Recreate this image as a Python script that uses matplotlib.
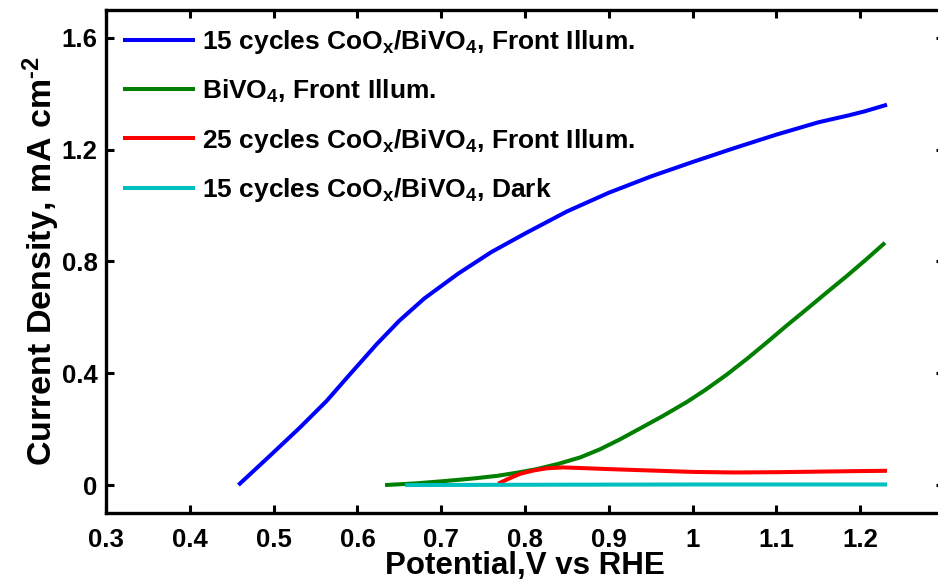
import matplotlib
matplotlib.use("Agg")
import matplotlib.pyplot as plt

# Photocurrent curves (potential in V vs RHE, current in mA cm^-2)
blue_x = [0.458, 0.4957, 0.5315, 0.5633, 0.591, 0.623, 0.65, 0.68, 0.72, 0.76,
          0.80, 0.85, 0.90, 0.95, 1.00, 1.05, 1.10, 1.15, 1.185, 1.205, 1.232]
blue_y = [0.0, 0.105, 0.206, 0.301, 0.396, 0.504, 0.588, 0.668, 0.756, 0.834,
          0.900, 0.979, 1.046, 1.104, 1.156, 1.206, 1.254, 1.298, 1.322, 1.337, 1.361]

green_x = [0.633, 0.67, 0.707, 0.74, 0.767, 0.79, 0.814, 0.84, 0.866, 0.8895,
           0.913, 0.937, 0.965, 0.993, 1.015, 1.0407, 1.065, 1.0884, 1.112,
           1.136, 1.16, 1.184, 1.207, 1.2296]
green_y = [0.0, 0.006, 0.015, 0.024, 0.033, 0.044, 0.057, 0.076, 0.099, 0.128,
           0.163, 0.202, 0.248, 0.297, 0.34, 0.395, 0.452, 0.51, 0.57,
           0.629, 0.689, 0.748, 0.807, 0.867]

red_x = [0.768, 0.78, 0.794, 0.81, 0.826, 0.845, 0.866, 0.9, 0.95, 1.0, 1.05, 1.1,
         1.15, 1.2, 1.232]
red_y = [0.005, 0.022, 0.04, 0.052, 0.06, 0.063, 0.061, 0.057, 0.052, 0.047, 0.045,
         0.046, 0.048, 0.05, 0.051]

cyan_x = [0.657, 0.8, 1.0, 1.232]
cyan_y = [0.0, 0.001, 0.002, 0.002]

labels = [r"15 cycles CoO$_\mathbf{x}$/BiVO$_\mathbf{4}$, Front Illum.",
          r"BiVO$_\mathbf{4}$, Front Illum.",
          r"25 cycles CoO$_\mathbf{x}$/BiVO$_\mathbf{4}$, Front Illum.",
          r"15 cycles CoO$_\mathbf{x}$/BiVO$_\mathbf{4}$, Dark"]
colors = ["#0000ff", "#007f00", "#ff0000", "#00bfbf"]

x_ticks = [0.3, 0.4, 0.5, 0.6, 0.7, 0.8, 0.9, 1.0, 1.1, 1.2]
x_tick_labels = ["0.3", "0.4", "0.5", "0.6", "0.7", "0.8", "0.9", "1", "1.1", "1.2"]
y_ticks = [0, 0.4, 0.8, 1.2, 1.6]
y_tick_labels = ["0", "0.4", "0.8", "1.2", "1.6"]

plt.rcParams["font.family"] = ["Liberation Sans", "DejaVu Sans"]
plt.rcParams["font.weight"] = "bold"
plt.rcParams["mathtext.fontset"] = "custom"
plt.rcParams["mathtext.bf"] = "Liberation Sans:bold"
plt.rcParams["mathtext.rm"] = "Liberation Sans:bold"
plt.rcParams["mathtext.default"] = "bf"

fig = plt.figure(figsize=(9.38, 5.84), dpi=100)
ax = fig.add_axes([0.113, 0.1216, 0.8934, 0.8613])

series = [(blue_x, blue_y), (green_x, green_y), (red_x, red_y), (cyan_x, cyan_y)]
for (xs, ys), lab, col in zip(series, labels, colors):
    ax.plot(xs, ys, color=col, lw=2.9, label=lab, solid_capstyle="butt")

ax.set_xlim(0.3, 1.3)
ax.set_ylim(-0.1, 1.7)
ax.set_xticks(x_ticks)
ax.set_xticklabels(x_tick_labels)
ax.set_yticks(y_ticks)
ax.set_yticklabels(y_tick_labels)

ax.tick_params(direction="in", length=5.5, width=2.2, top=True, right=True,
               labelsize=18.5)
ax.tick_params(axis="x", pad=11)
ax.tick_params(axis="y", pad=6)
for sp in ax.spines.values():
    sp.set_linewidth(2.4)

ax.set_xlabel("Potential,V vs RHE", fontsize=22.5, fontweight="bold", labelpad=-1)
ax.set_ylabel("Current Density, mA cm$^{\u2010\\mathbf{2}}$", fontsize=24.5,
              fontweight="bold", labelpad=0)

ax.legend(loc="upper left", frameon=False, fontsize=19, handlelength=2.7,
          handletextpad=0.3, labelspacing=0.82, borderaxespad=0.0,
          bbox_to_anchor=(0.008, 0.985))

fig.savefig("out.png", dpi=100)
